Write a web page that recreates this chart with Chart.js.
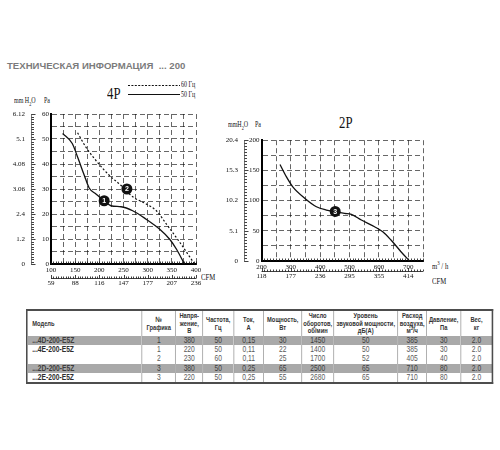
<!DOCTYPE html>
<html><head><meta charset="utf-8">
<script src="https://cdn.jsdelivr.net/npm/chart.js@4.4.0/dist/chart.umd.min.js"></script>
<style>
html,body{margin:0;padding:0;background:#fff}
body{width:500px;height:450px;position:relative;overflow:hidden;font-family:"Liberation Sans",Arial,sans-serif}
.t{position:absolute;white-space:nowrap;line-height:1}
.serif{font-family:"Liberation Serif","Times New Roman",serif;color:#111}
.sq{transform:scaleX(0.75);transform-origin:0 50%}
canvas{position:absolute}
#title{left:7px;top:61px;font-size:9.6px;font-weight:bold;color:#7b7b7b}
#tblwrap{position:absolute;left:26px;top:309px;transform:scaleX(0.78);transform-origin:0 0}
table{border-collapse:collapse;border:2px solid #4d4d4d;table-layout:fixed}
td,th{padding:0;border-left:1px solid #9a9a9a;text-align:center;overflow:hidden;white-space:nowrap}
th{font-size:7.4px;font-weight:bold;color:#333;height:25px;line-height:7.4px}
td{font-size:8.6px;color:#5a5a5a;height:9.2px;line-height:9px}
tr.g td{background:#a9a9a9;color:#3d3d3d}
td.m{text-align:left;padding-left:6px;font-weight:bold;color:#2e2e2e}
th.m{text-align:left;padding-left:6px}
sub,sup{font-size:70%;line-height:0}
</style></head>
<body>
<div id="title" class="t">ТЕХНИЧЕСКАЯ ИНФОРМАЦИЯ &nbsp;... 200</div>

<div class="t serif sq" style="left:107px;top:85px;font-size:17px">4P</div>
<svg style="position:absolute;left:126px;top:80px" width="56" height="20">
  <line x1="2" y1="5.5" x2="54" y2="5.5" stroke="#111" stroke-width="1.1" stroke-dasharray="2,1.4"/>
  <line x1="2" y1="14.5" x2="54" y2="14.5" stroke="#111" stroke-width="1.2"/>
</svg>
<div class="t serif sq" style="left:181px;top:81px;font-size:8px">60 Гц</div>
<div class="t serif sq" style="left:181px;top:91px;font-size:8px">50 Гц</div>
<div class="t serif sq" style="left:14px;top:97px;font-size:8px">mm H<sub>2</sub>O</div>
<div class="t serif sq" style="left:44px;top:97px;font-size:8px">Pa</div>
<div class="t serif sq" style="left:201px;top:273px;font-size:9px">CFM</div>

<div class="t serif sq" style="left:339px;top:114px;font-size:17px">2P</div>
<div class="t serif sq" style="left:228px;top:121px;font-size:8px">mmH<sub>2</sub>O</div>
<div class="t serif sq" style="left:255px;top:121px;font-size:8px">Pa</div>
<div class="t serif sq" style="left:432px;top:262px;font-size:9px">m<sup>3</sup> / h</div>
<div class="t serif sq" style="left:432px;top:277px;font-size:9px">CFM</div>

<canvas id="c4p" width="230" height="190" style="left:0;top:100px"></canvas>
<canvas id="c2p" width="240" height="160" style="left:200px;top:130px"></canvas>

<div id="tblwrap"><table id="tbl"></table></div>

<script>
// ---------- 4P chart data ----------
const paTicks4P   = [0, 10, 20, 30, 40, 50, 60];
const mmLabels4P  = ['0', '1.2', '2.4', '3.06', '4.08', '5.1', '6.12'];
const flowTicks4P = [100, 150, 200, 250, 300, 350, 400];
const cfmLabels4P = ['59', '88', '116', '147', '177', '207', '236'];
// curve 1 (50 Hz, solid)
const curve1Flow = [124, 144, 155, 169, 179, 193, 210, 224, 245, 269, 297, 325, 346, 360, 376];
const curve1Pa   = [52.2, 48.2, 42.8, 35.4, 30.4, 28, 25.3, 23.3, 22.9, 21.3, 17.9, 13.9, 9.8, 5.8, 0];
// curve 2 (60 Hz, dashed)
const curve2Flow = [155, 172, 193, 221, 245, 269, 297, 318, 339, 367, 397];
const curve2Pa   = [52.5, 46.8, 41.4, 35.4, 31.4, 26.9, 24, 21.3, 15.9, 8.5, 0];
// numbered markers
const marker4PFlow   = [210, 257];
const marker4PPa     = [25.3, 30];
const marker4PLabels = ['1', '2'];

// ---------- 2P chart data ----------
const paTicks2P   = [0, 50, 100, 150, 200];
const mmLabels2P  = ['0', '5.1', '10.2', '15.3', '20.4'];
const flowTicks2P = [200, 300, 400, 500, 600, 700];
const cfmLabels2P = ['118', '177', '236', '295', '355', '414'];
const curve3Flow = [263, 285, 308, 348, 387, 421, 452, 483, 506, 540, 585, 613, 641, 675, 704];
const curve3Pa   = [159.8, 139.3, 121.8, 103.6, 89.8, 84.3, 81.5, 78.8, 77.2, 67.8, 56.7, 48.4, 34.7, 15.4, 0];
const marker2PFlow   = [451];
const marker2PPa     = [82];
const marker2PLabels = ['3'];

// ---------- table data ----------
const tblHeaders = ['Модель', '№<br>Графика', 'Напря-<br>жение,<br>В', 'Частота,<br>Гц', 'Ток,<br>А', 'Мощность,<br>Вт',
  'Число<br>оборотов,<br>об/мин', 'Уровень<br>звуковой мощности,<br>дБ(А)', 'Расход<br>воздуха,<br>м<sup>3</sup>/ч', 'Давление,<br>Па', 'Вес,<br>кг'];
const tblModels   = ['...4D-200-E5Z', '...4E-200-E5Z', '', '...2D-200-E5Z', '...2E-200-E5Z'];
const tblGraph    = ['1', '1', '2', '3', '3'];
const tblVoltage  = ['380', '220', '230', '380', '220'];
const tblFreq     = ['50', '50', '60', '50', '50'];
const tblCurrent  = ['0,15', '0,11', '0,11', '0,25', '0,25'];
const tblPower    = ['30', '22', '25', '65', '55'];
const tblRpm      = ['1450', '1400', '1700', '2500', '2680'];
const tblNoise    = ['50', '50', '52', '65', '65'];
const tblAirflow  = ['385', '385', '405', '710', '710'];
const tblPressure = ['30', '30', '40', '80', '80'];
const tblWeight   = ['2.0', '2.0', '2.0', '2.0', '2.0'];
const tblGrayRows = [true, false, false, true, false];
const tblColW     = [115, 34, 27, 31, 30, 38, 32, 64, 29, 34, 32];

// ---------- table build ----------
(function(){
  const k = 1/0.78;
  const t = document.getElementById('tbl');
  let h = '<colgroup>' + tblColW.map(w => '<col style="width:' + (w*k).toFixed(1) + 'px">').join('') + '</colgroup>';
  h += '<tr>' + tblHeaders.map((x,i) => '<th' + (i===0?' class="m"':'') + '>' + x + '</th>').join('') + '</tr>';
  const cols = [tblGraph, tblVoltage, tblFreq, tblCurrent, tblPower, tblRpm, tblNoise, tblAirflow, tblPressure, tblWeight];
  tblModels.forEach((m, r) => {
    h += '<tr' + (tblGrayRows[r] ? ' class="g"' : '') + '><td class="m">' + m + '</td>' +
      cols.map(c => '<td>' + c[r] + '</td>').join('') + '</tr>';
  });
  t.style.width = (tblColW.reduce((a,b)=>a+b,0)*k).toFixed(1) + 'px';
  t.innerHTML = h;
})();

// ---------- charts ----------
const FONT = {family: '"Liberation Serif","Times New Roman",serif', size: 7};
const GRID = 'rgba(0,0,0,0.75)';
const lbl = (ticks, labels) => v => { const i = ticks.indexOf(v); return i < 0 ? '' : labels[i]; };
const pts = (xs, ys) => xs.map((x, i) => ({x: x, y: ys[i]}));

const rulerPlugin = {
  id: 'ruler',
  afterDraw(chart, args, o) {
    const {ctx, chartArea: a, scales} = chart;
    const xs = scales.x, ys = scales.y, cs = scales.cfm, ms = scales.mm;
    const isMaj = (v, m) => Math.abs(v / m - Math.round(v / m)) < 1e-6;
    ctx.save();
    ctx.strokeStyle = '#111'; ctx.lineWidth = 0.8;
    ctx.beginPath();
    const ry = Math.round(cs.top + o.cfmOffset) + 0.5;
    ctx.moveTo(xs.left, ry); ctx.lineTo(xs.right, ry);
    for (let v = xs.min; v <= xs.max + 1e-9; v += o.xMinor) {
      const x = Math.round(xs.getPixelForValue(v)) + 0.5;
      ctx.moveTo(x, a.bottom); ctx.lineTo(x, a.bottom - 2.5);
      ctx.moveTo(x, ry); ctx.lineTo(x, ry - (isMaj(v, o.xMajor) ? 3.5 : 2));
    }
    const mx = Math.round(ms.right) + 0.5;
    for (let v = ys.min; v <= ys.max + 1e-9; v += o.yMinor) {
      const y = Math.round(ys.getPixelForValue(v)) + 0.5;
      ctx.moveTo(mx, y); ctx.lineTo(mx + (isMaj(v, o.yMajor) ? 4 : 2.5), y);
    }
    ctx.stroke();
    chart.data.datasets.forEach((ds, di) => {
      if (!ds.markerLabels) return;
      const meta = chart.getDatasetMeta(di);
      ctx.fillStyle = '#fff';
      ctx.font = 'bold 7px "Liberation Sans",Arial,sans-serif';
      ctx.textAlign = 'center'; ctx.textBaseline = 'middle';
      meta.data.forEach((p, i) => ctx.fillText(ds.markerLabels[i], p.x, p.y + 0.5));
    });
    ctx.restore();
  }
};

function makeChart(id, c) {
  return new Chart(document.getElementById(id), {
    type: 'line',
    data: {datasets: c.datasets},
    options: {
      responsive: false, animation: false, devicePixelRatio: 1,
      layout: {padding: c.padding},
      plugins: {legend: {display: false}, tooltip: {enabled: false}, ruler: c.ruler},
      elements: {line: {cubicInterpolationMode: 'monotone'}},
      scales: {
        x: {type: 'linear', position: 'bottom', weight: 0, min: c.xMin, max: c.xMax,
          ticks: {stepSize: c.xStep, autoSkip: false, maxRotation: 0, minRotation: 0, padding: c.xPad, font: FONT, color: '#111',
            callback: lbl(c.flowTicks, c.flowTicks.map(String))},
          grid: {color: GRID, lineWidth: 0.8, drawTicks: false},
          border: {color: '#000', width: 2, dash: [5, 3]},
          afterFit: s => { s.height = c.xH; }},
        cfm: {type: 'linear', position: 'bottom', weight: 1, min: c.xMin, max: c.xMax,
          ticks: {stepSize: c.xStep, autoSkip: false, maxRotation: 0, minRotation: 0, padding: c.cfmPad, font: FONT, color: '#111',
            callback: lbl(c.flowTicks, c.cfmLabels)},
          grid: {drawOnChartArea: false, drawTicks: false},
          border: {display: false},
          afterFit: s => { s.height = c.cfmH; }},
        y: {type: 'linear', position: 'left', weight: 0, min: c.yMin, max: c.yMax,
          ticks: {stepSize: c.yStep, autoSkip: false, padding: 2, font: FONT, color: '#111',
            callback: lbl(c.paTicks, c.paTicks.map(String))},
          grid: {color: GRID, lineWidth: 0.8, drawTicks: false},
          border: {color: '#000', width: 2, dash: [5, 3]},
          afterFit: s => { s.width = c.yW; }},
        mm: {type: 'linear', position: 'left', weight: 1, min: c.yMin, max: c.yMax,
          ticks: {stepSize: c.yStep, autoSkip: false, padding: 6, font: FONT, color: '#111',
            callback: lbl(c.paTicks, c.mmLabels)},
          grid: {drawOnChartArea: false, drawTicks: false},
          border: {color: '#777', width: 1},
          afterFit: s => { s.width = c.mmW; }}
      }
    },
    plugins: [rulerPlugin]
  });
}

const markerDs = (xs, ys, labels) => ({data: pts(xs, ys), showLine: false, pointRadius: 5.5,
  pointBackgroundColor: '#111', pointBorderColor: '#111', pointBorderWidth: 0, markerLabels: labels});

makeChart('c4p', {
  datasets: [
    {data: pts(curve1Flow, curve1Pa), borderColor: '#111', borderWidth: 1.3, pointRadius: 0, fill: false},
    {data: pts(curve2Flow, curve2Pa), borderColor: '#111', borderWidth: 1.2, borderDash: [2, 2], pointRadius: 0, fill: false},
    markerDs(marker4PFlow, marker4PPa, marker4PLabels)
  ],
  padding: {left: 0, top: 14, right: 34, bottom: 3},
  ruler: {xMinor: 5, xMajor: 50, yMinor: 1, yMajor: 10, cfmOffset: 5},
  xMin: 100, xMax: 400, xStep: 25, yMin: 0, yMax: 60, yStep: 5,
  flowTicks: flowTicks4P, cfmLabels: cfmLabels4P, paTicks: paTicks4P, mmLabels: mmLabels4P,
  xPad: 2, cfmPad: 6, xH: 9, cfmH: 14, yW: 20, mmW: 31
});

makeChart('c2p', {
  datasets: [
    {data: pts(curve3Flow, curve3Pa), borderColor: '#111', borderWidth: 1.3, pointRadius: 0, fill: false},
    markerDs(marker2PFlow, marker2PPa, marker2PLabels)
  ],
  padding: {left: 0, top: 10, right: 17, bottom: 6},
  ruler: {xMinor: 10, xMajor: 100, yMinor: 5, yMajor: 50, cfmOffset: 1},
  xMin: 200, xMax: 750, xStep: 50, yMin: 0, yMax: 200, yStep: 25,
  flowTicks: flowTicks2P, cfmLabels: cfmLabels2P, paTicks: paTicks2P, mmLabels: mmLabels2P,
  xPad: 1.5, cfmPad: 2, xH: 9, cfmH: 14, yW: 17.5, mmW: 44
});
</script>
</body></html>
